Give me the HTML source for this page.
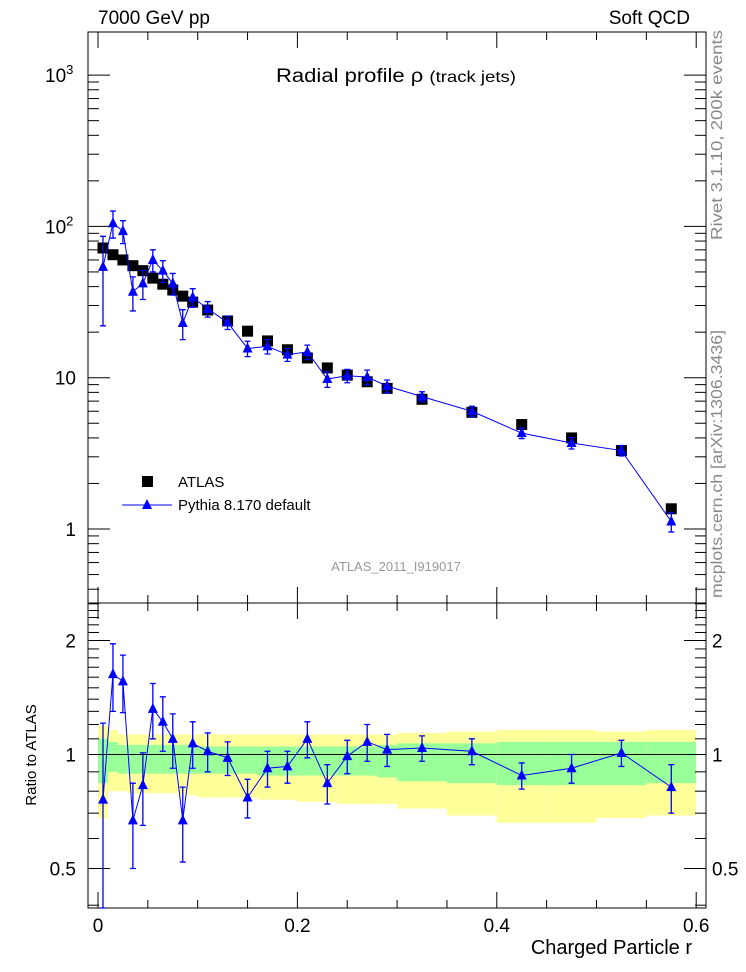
<!DOCTYPE html>
<html><head><meta charset="utf-8">
<style>
body{margin:0;background:#fff;}
svg{display:block;font-family:"Liberation Sans",sans-serif;}
</style></head>
<body>
<svg id="chart" width="746" height="972" viewBox="0 0 746 972" xmlns="http://www.w3.org/2000/svg">
<text x="98" y="24" font-size="19">7000 GeV pp</text>
<text x="690" y="24" font-size="19" text-anchor="end">Soft QCD</text>
<text x="276" y="82" font-size="19" textLength="240" lengthAdjust="spacingAndGlyphs">Radial profile  ρ <tspan font-size="16">(track jets)</tspan></text>
<text transform="translate(722,240) rotate(-90)" font-size="16" fill="#888" textLength="210" lengthAdjust="spacingAndGlyphs">Rivet 3.1.10,  200k events</text>
<text transform="translate(722,598) rotate(-90)" font-size="16" fill="#888" textLength="268" lengthAdjust="spacingAndGlyphs">mcplots.cern.ch [arXiv:1306.3436]</text>
<text x="396" y="571" font-size="13" fill="#999" text-anchor="middle">ATLAS_2011_I919017</text>
<text transform="translate(36,755) rotate(-90)" font-size="15" text-anchor="middle">Ratio to ATLAS</text>
<text x="692" y="954" font-size="20" text-anchor="end">Charged Particle r</text>
<g id="bands"></g><g id="axes"></g><g id="marks"></g>
<g>
<rect x="142" y="476" width="11" height="11" fill="#000"/>
<text x="178" y="487" font-size="15">ATLAS</text>
<line x1="122" y1="505" x2="172" y2="505" stroke="#00f" stroke-width="1"/>
<polygon points="147,499 142,509 152,509" fill="#00f"/>
<text x="178" y="510" font-size="15">Pythia 8.170 default</text>
</g>
</svg>
<script>
const xs=[0.005,0.015,0.025,0.035,0.045,0.055,0.065,0.075,0.085,0.095,0.11,0.13,0.15,0.17,0.19,0.21,0.23,0.25,0.27,0.29,0.325,0.375,0.425,0.475,0.525,0.575];
const edges=[0,0.01,0.02,0.03,0.04,0.05,0.06,0.07,0.08,0.09,0.1,0.12,0.14,0.16,0.18,0.2,0.22,0.24,0.26,0.28,0.3,0.35,0.4,0.45,0.5,0.55,0.6];
const atlas=[72,65,60,55,51,45.5,41.5,38,34.6,31.6,28,23.7,20.3,17.5,15.3,13.5,11.6,10.4,9.4,8.5,7.2,5.9,4.9,4.0,3.3,1.36];
const pythia=[54,105,93,37,42,60,51,42,23,34,28.5,23.2,15.6,16.1,14.2,14.8,9.8,10.3,10.1,8.8,7.5,6.0,4.3,3.7,3.3,1.12];
const ratio=[0.76,1.63,1.56,0.67,0.83,1.32,1.22,1.10,0.67,1.07,1.02,0.98,0.77,0.92,0.93,1.10,0.84,0.99,1.08,1.03,1.04,1.02,0.88,0.92,1.01,0.82];
const ratioErr=[0.45,0.33,0.27,0.17,0.18,0.22,0.2,0.18,0.15,0.15,0.12,0.1,0.09,0.1,0.09,0.12,0.1,0.1,0.12,0.1,0.08,0.08,0.07,0.08,0.08,0.12];
const yelHi=[1.19,1.16,1.13,1.13,1.13,1.13,1.13,1.13,1.13,1.13,1.13,1.13,1.13,1.13,1.13,1.13,1.13,1.13,1.13,1.13,1.14,1.15,1.16,1.16,1.15,1.16];
const yelLo=[0.68,0.80,0.80,0.79,0.79,0.79,0.79,0.79,0.78,0.78,0.77,0.77,0.77,0.76,0.76,0.75,0.75,0.74,0.74,0.74,0.72,0.69,0.66,0.66,0.68,0.69];
const grnHi=[1.10,1.08,1.06,1.06,1.06,1.06,1.06,1.06,1.06,1.06,1.05,1.05,1.05,1.05,1.05,1.05,1.05,1.05,1.05,1.06,1.07,1.07,1.08,1.08,1.08,1.08];
const grnLo=[0.84,0.90,0.89,0.89,0.89,0.89,0.89,0.89,0.89,0.89,0.89,0.89,0.89,0.88,0.88,0.88,0.88,0.88,0.88,0.87,0.85,0.84,0.83,0.83,0.83,0.84];
const xTicks=[0,0.2,0.4,0.6];
const xTickLabels=["0","0.2","0.4","0.6"];
const yMainTicks=[1,10,100,1000];
const yRatioTicks=[0.5,1,2];
const yRatioLabels=["0.5","1","2"];

const NS="http://www.w3.org/2000/svg";
const L=88,R=706,T=32,M=603,B=908;
const X=v=>98+v*997;
const Ym=v=>529-151.3*Math.log10(v);
const Yr=v=>754.5-114*Math.log2(v);
function mk(parent,tag,attrs){const e=document.createElementNS(NS,tag);for(const k in attrs)e.setAttribute(k,attrs[k]);document.getElementById(parent).appendChild(e);return e;}

for(let i=0;i<xs.length;i++){
  const y=mk('bands','rect',{x:X(edges[i]),y:Yr(yelHi[i]),width:X(edges[i+1])-X(edges[i]),height:Yr(yelLo[i])-Yr(yelHi[i]),fill:'#ffff99'});
  
  
  const g=mk('bands','rect',{x:X(edges[i]),y:Yr(grnHi[i]),width:X(edges[i+1])-X(edges[i]),height:Yr(grnLo[i])-Yr(grnHi[i]),fill:'#99ff99'});
  
  
}
const one=mk('bands','line',{x1:L,x2:R,y1:Yr(1),y2:Yr(1),stroke:'#000','stroke-width':1});



[[T,M],[M,B]].forEach(([a,b],k)=>{
  const f=mk('axes','rect',{x:L,y:a,width:R-L,height:b-a,fill:'none',stroke:'#000','stroke-width':1});
  
  
});
function tickLine(x1,y1,x2,y2){const t=mk('axes','line',{x1,y1,x2,y2,stroke:'#000','stroke-width':1});}
for(let v=0;v<=0.6001;v+=0.05){
  const major=Math.abs(v/0.2-Math.round(v/0.2))<1e-6;const len=major?16:8;
  [[T,1],[M,-1],[M,1],[B,-1]].forEach(([y,d])=>tickLine(X(v),y,X(v),y+d*len));
}
xTicks.forEach((v,i)=>{const t=mk('axes','text',{x:X(v),y:932,'font-size':19,'text-anchor':'middle'});t.textContent=xTickLabels[i];});
for(let d=0;d<=3;d++)for(let m=1;m<=9;m++){const v=m*Math.pow(10,d);const y=Ym(v);if(y<T||y>M)continue;const len=m==1?22:11;tickLine(L,y,L+len,y);tickLine(R,y,R-len,y);}
for(let m=3;m<=9;m++){const y=Ym(m/10);if(y<M){tickLine(L,y,L+11,y);tickLine(R,y,R-11,y);}}
yMainTicks.forEach(v=>{const t=mk('axes','text',{x:76,y:Ym(v)+7,'font-size':19,'text-anchor':'end'});
  if(v==1){t.textContent='1';}
  else if(v==10){t.textContent='10';}
  else{t.setAttribute('x',45);t.setAttribute('text-anchor','start');t.textContent='10';const s=document.createElementNS(NS,'tspan');s.setAttribute('dy',-8);s.setAttribute('font-size',13);s.textContent=v==100?'2':'3';t.appendChild(s);}
  });
for(const v of [0.4,0.5,0.6,0.7,0.8,0.9,1,1.1,1.2,1.3,1.4,1.5,1.6,1.7,1.8,1.9,2,2.1,2.2,2.3,2.4,2.5]){const y=Yr(v);if(y<M||y>B)continue;const major=[0.5,1,2].includes(v);const len=major?22:11;tickLine(L,y,L+len,y);tickLine(R,y,R-len,y);}
yRatioTicks.forEach((v,i)=>{[[76,'end'],[712,'start']].forEach(([x,a])=>{const t=mk('axes','text',{x,y:Yr(v)+7,'font-size':19,'text-anchor':a});t.textContent=yRatioLabels[i];});});

function tri(parent,x,y,name){const p=mk(parent,'polygon',{points:`${x},${y-6} ${x-5},${y+4} ${x+5},${y+4}`,fill:'#00f'});}
function err(x,y1,y2,name){const e=mk('marks','path',{d:`M${x},${y1}V${y2}M${x-3},${y1}H${x+3}M${x-3},${y2}H${x+3}`,stroke:'#00f','stroke-width':1.3,fill:'none'});}
xs.forEach((x,i)=>{const r=mk('marks','rect',{x:X(x)-5.5,y:Ym(atlas[i])-5.5,width:11,height:11,fill:'#000'});});
const pl=mk('marks','polyline',{points:xs.map((x,i)=>X(x)+','+Ym(pythia[i])).join(' '),fill:'none',stroke:'#00f','stroke-width':1});


xs.forEach((x,i)=>{const rel=ratioErr[i]/ratio[i];err(X(x),Ym(pythia[i]*(1+rel)),Math.min(M,Ym(Math.max(pythia[i]*(1-rel),0.01))),'pythia-error-bar');tri('marks',X(x),Ym(pythia[i]),'pythia-point');});
const rl=mk('marks','polyline',{points:xs.map((x,i)=>X(x)+','+Yr(ratio[i])).join(' '),fill:'none',stroke:'#00f','stroke-width':1});


xs.forEach((x,i)=>{const lo=ratio[i]-ratioErr[i];err(X(x),Yr(ratio[i]+ratioErr[i]),lo>0?Math.min(B,Yr(lo)):B,'ratio-error-bar');tri('marks',X(x),Yr(ratio[i]),'ratio-point');});
</script>
</body></html>
